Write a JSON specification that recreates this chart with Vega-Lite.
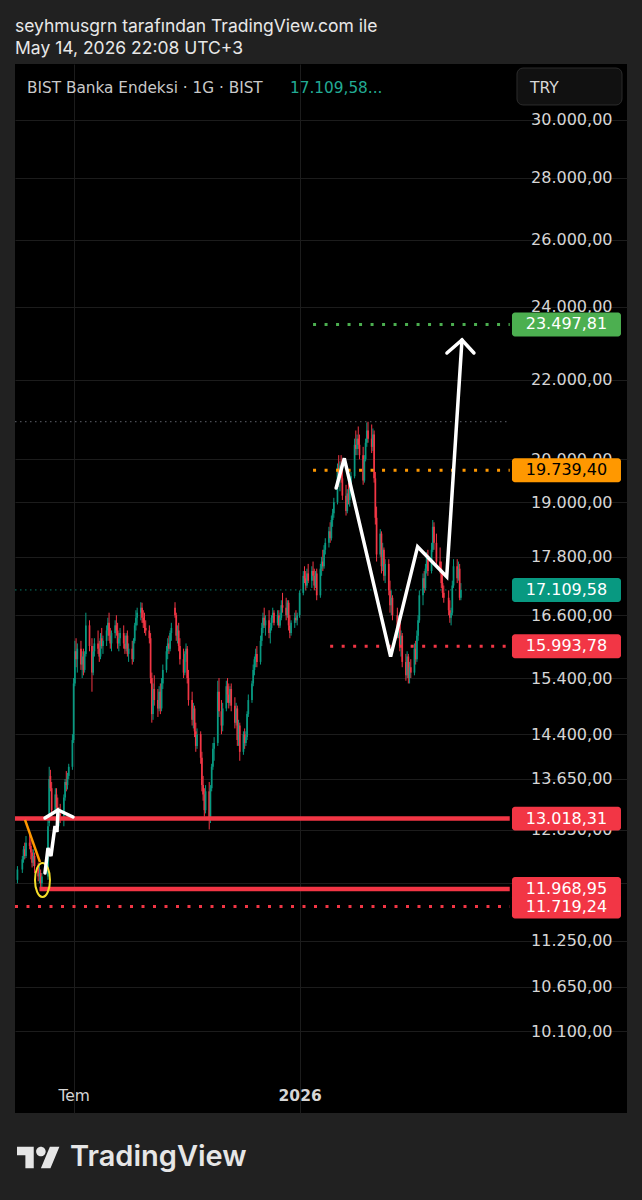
{
"$schema":"https://vega.github.io/schema/vega-lite/v6.json",
"width":612,"height":1049,
"autosize":{"type":"none"},
"padding":{"left":15,"top":64,"right":15,"bottom":87},
"background":"#212121",
"config":{
 "view":{"stroke":null,"fill":"#000000"},
 "locale":{
  "number":{"decimal":",","thousands":".","grouping":[3],"currency":["₺",""]},
  "time":{"dateTime":"%A, %e %B %Y %X","date":"%d.%m.%Y","time":"%H:%M:%S","periods":["AM","PM"],
   "days":["Pazar","Pazartesi","Salı","Çarşamba","Perşembe","Cuma","Cumartesi"],
   "shortDays":["Paz","Pzt","Sal","Çar","Per","Cum","Cmt"],
   "months":["Ocak","Şubat","Mart","Nisan","Mayıs","Haziran","Temmuz","Ağustos","Eylül","Ekim","Kasım","Aralık"],
   "shortMonths":["Oca","Şub","Mar","Nis","May","Haz","Tem","Ağu","Eyl","Eki","Kas","Ara"]}
 }
},
"title":{"text":"seyhmusgrn tarafından TradingView.com ile","subtitle":"May 14, 2026 22:08 UTC+3","anchor":"start","frame":"group","orient":"top","offset":7,"font":"Inter","fontSize":17.5,"fontWeight":400,"color":"#e8e8e8","subtitleFont":"Inter","subtitleFontSize":17.5,"subtitleColor":"#e8e8e8","subtitlePadding":4.5},
"datasets":{
"one":[{}],
"candles":[
{"d":"2025-05-16","o":12100,"h":12300,"l":12050,"c":12250},
{"d":"2025-05-20","o":12250,"h":12450,"l":12200,"c":12400},
{"d":"2025-05-21","o":12400,"h":12600,"l":12350,"c":12550},
{"d":"2025-05-22","o":12550,"h":12650,"l":12400,"c":12450},
{"d":"2025-05-23","o":12450,"h":12750,"l":12420,"c":12650},
{"d":"2025-05-26","o":12650,"h":12800,"l":12550,"c":12600},
{"d":"2025-05-27","o":12600,"h":12700,"l":12400,"c":12500},
{"d":"2025-05-28","o":12500,"h":12550,"l":12280,"c":12350},
{"d":"2025-05-29","o":12350,"h":12550,"l":12300,"c":12450},
{"d":"2025-05-30","o":12450,"h":12500,"l":12200,"c":12300},
{"d":"2025-06-02","o":12300,"h":12350,"l":12080,"c":12150},
{"d":"2025-06-03","o":12150,"h":12300,"l":12050,"c":12200},
{"d":"2025-06-04","o":12200,"h":12250,"l":11980,"c":12050},
{"d":"2025-06-05","o":12050,"h":12200,"l":11950,"c":12150},
{"d":"2025-06-10","o":12150,"h":13000,"l":12100,"c":12900},
{"d":"2025-06-11","o":12950,"h":13850,"l":12900,"c":13650},
{"d":"2025-06-12","o":13700,"h":13800,"l":13450,"c":13500},
{"d":"2025-06-13","o":13500,"h":13600,"l":13050,"c":13150},
{"d":"2025-06-16","o":13150,"h":13500,"l":13100,"c":13400},
{"d":"2025-06-17","o":13400,"h":13500,"l":13150,"c":13200},
{"d":"2025-06-18","o":13200,"h":13350,"l":12950,"c":13000},
{"d":"2025-06-19","o":13000,"h":13200,"l":12900,"c":13100},
{"d":"2025-06-20","o":13100,"h":13250,"l":12950,"c":13050},
{"d":"2025-06-23","o":13050,"h":13400,"l":12900,"c":13350},
{"d":"2025-06-24","o":13350,"h":13650,"l":13300,"c":13600},
{"d":"2025-06-25","o":13600,"h":13780,"l":13450,"c":13550},
{"d":"2025-06-26","o":13550,"h":13750,"l":13480,"c":13700},
{"d":"2025-06-27","o":13700,"h":13900,"l":13650,"c":13850},
{"d":"2025-06-30","o":13850,"h":14400,"l":13800,"c":14300},
{"d":"2025-07-01","o":14300,"h":15400,"l":14250,"c":15300},
{"d":"2025-07-02","o":15300,"h":16100,"l":15250,"c":15900},
{"d":"2025-07-03","o":15900,"h":16150,"l":15600,"c":15750},
{"d":"2025-07-04","o":15750,"h":16050,"l":15500,"c":15950},
{"d":"2025-07-07","o":15950,"h":16100,"l":15550,"c":15650},
{"d":"2025-07-08","o":15650,"h":15900,"l":15400,"c":15800},
{"d":"2025-07-09","o":15800,"h":15950,"l":15450,"c":15550},
{"d":"2025-07-10","o":15550,"h":15900,"l":15500,"c":15850},
{"d":"2025-07-11","o":15850,"h":16650,"l":15800,"c":16400},
{"d":"2025-07-14","o":16400,"h":16500,"l":15900,"c":16000},
{"d":"2025-07-16","o":16000,"h":16150,"l":15150,"c":15500},
{"d":"2025-07-17","o":15500,"h":16000,"l":15450,"c":15900},
{"d":"2025-07-18","o":15900,"h":16150,"l":15800,"c":16050},
{"d":"2025-07-21","o":16050,"h":16300,"l":15850,"c":15950},
{"d":"2025-07-22","o":15950,"h":16100,"l":15700,"c":15800},
{"d":"2025-07-23","o":15800,"h":16250,"l":15750,"c":16150},
{"d":"2025-07-24","o":16150,"h":16350,"l":15950,"c":16000},
{"d":"2025-07-25","o":16000,"h":16200,"l":15850,"c":16100},
{"d":"2025-07-28","o":16100,"h":16400,"l":16000,"c":16300},
{"d":"2025-07-29","o":16300,"h":16550,"l":16200,"c":16450},
{"d":"2025-07-30","o":16450,"h":16650,"l":16100,"c":16200},
{"d":"2025-07-31","o":16200,"h":16350,"l":15950,"c":16050},
{"d":"2025-08-01","o":16050,"h":16300,"l":15900,"c":16250},
{"d":"2025-08-04","o":16250,"h":16500,"l":16150,"c":16400},
{"d":"2025-08-05","o":16400,"h":16600,"l":16200,"c":16300},
{"d":"2025-08-06","o":16300,"h":16450,"l":15950,"c":16050},
{"d":"2025-08-07","o":16050,"h":16250,"l":15900,"c":16150},
{"d":"2025-08-08","o":16150,"h":16350,"l":16000,"c":16250},
{"d":"2025-08-11","o":16250,"h":16400,"l":15950,"c":16050},
{"d":"2025-08-12","o":16050,"h":16200,"l":15850,"c":15950},
{"d":"2025-08-13","o":15950,"h":16250,"l":15900,"c":16200},
{"d":"2025-08-14","o":16200,"h":16300,"l":15800,"c":15850},
{"d":"2025-08-15","o":15850,"h":16050,"l":15700,"c":15950},
{"d":"2025-08-18","o":15950,"h":16100,"l":15650,"c":15750},
{"d":"2025-08-19","o":15750,"h":16150,"l":15700,"c":16100},
{"d":"2025-08-20","o":16100,"h":16450,"l":16050,"c":16400},
{"d":"2025-08-21","o":16400,"h":16700,"l":16300,"c":16550},
{"d":"2025-08-22","o":16550,"h":16750,"l":16400,"c":16650},
{"d":"2025-08-25","o":16650,"h":16860,"l":16500,"c":16750},
{"d":"2025-08-26","o":16750,"h":16850,"l":16450,"c":16550},
{"d":"2025-08-27","o":16550,"h":16700,"l":16350,"c":16450},
{"d":"2025-08-28","o":16450,"h":16650,"l":16250,"c":16350},
{"d":"2025-08-29","o":16350,"h":16500,"l":16200,"c":16300},
{"d":"2025-09-01","o":16300,"h":16400,"l":16050,"c":16150},
{"d":"2025-09-02","o":16150,"h":16250,"l":15300,"c":15400},
{"d":"2025-09-03","o":15400,"h":15500,"l":14600,"c":14750},
{"d":"2025-09-04","o":14750,"h":15300,"l":14650,"c":15200},
{"d":"2025-09-05","o":15200,"h":15450,"l":14900,"c":15000},
{"d":"2025-09-08","o":15000,"h":15200,"l":14700,"c":14850},
{"d":"2025-09-09","o":14850,"h":15250,"l":14800,"c":15150},
{"d":"2025-09-10","o":15150,"h":15300,"l":14750,"c":14850},
{"d":"2025-09-11","o":14850,"h":15400,"l":14800,"c":15300},
{"d":"2025-09-12","o":15300,"h":15650,"l":15200,"c":15550},
{"d":"2025-09-15","o":15550,"h":16000,"l":15500,"c":15900},
{"d":"2025-09-16","o":15900,"h":16150,"l":15750,"c":16050},
{"d":"2025-09-17","o":16050,"h":16200,"l":15850,"c":15950},
{"d":"2025-09-18","o":15950,"h":16300,"l":15900,"c":16250},
{"d":"2025-09-19","o":16250,"h":16450,"l":16100,"c":16350},
{"d":"2025-09-22","o":16750,"h":16860,"l":16550,"c":16600},
{"d":"2025-09-23","o":16600,"h":16650,"l":16100,"c":16200},
{"d":"2025-09-24","o":16200,"h":16400,"l":16050,"c":16300},
{"d":"2025-09-25","o":16300,"h":16450,"l":15900,"c":16000},
{"d":"2025-09-26","o":16000,"h":16150,"l":15650,"c":15750},
{"d":"2025-09-29","o":15750,"h":15950,"l":15400,"c":15500},
{"d":"2025-09-30","o":15500,"h":15900,"l":15450,"c":15850},
{"d":"2025-10-01","o":15850,"h":16050,"l":15700,"c":15950},
{"d":"2025-10-02","o":15950,"h":16000,"l":15300,"c":15400},
{"d":"2025-10-03","o":15400,"h":15550,"l":14900,"c":15000},
{"d":"2025-10-06","o":15000,"h":15150,"l":14550,"c":14650},
{"d":"2025-10-07","o":14650,"h":14950,"l":14500,"c":14850},
{"d":"2025-10-08","o":14850,"h":14900,"l":14350,"c":14450},
{"d":"2025-10-09","o":14450,"h":14600,"l":14100,"c":14200},
{"d":"2025-10-10","o":14200,"h":14500,"l":14150,"c":14400},
{"d":"2025-10-13","o":14400,"h":14450,"l":13900,"c":14000},
{"d":"2025-10-14","o":14000,"h":14100,"l":13450,"c":13550},
{"d":"2025-10-15","o":13550,"h":13700,"l":13300,"c":13400},
{"d":"2025-10-16","o":13400,"h":13500,"l":13050,"c":13150},
{"d":"2025-10-17","o":13150,"h":13550,"l":13100,"c":13450},
{"d":"2025-10-20","o":13450,"h":13600,"l":12850,"c":13000},
{"d":"2025-10-21","o":13000,"h":13550,"l":12950,"c":13500},
{"d":"2025-10-22","o":13500,"h":13900,"l":13450,"c":13850},
{"d":"2025-10-23","o":13850,"h":14250,"l":13800,"c":14150},
{"d":"2025-10-24","o":14150,"h":14350,"l":13950,"c":14250},
{"d":"2025-10-27","o":14250,"h":15350,"l":14200,"c":15150},
{"d":"2025-10-28","o":15150,"h":15400,"l":14700,"c":14800},
{"d":"2025-10-30","o":14800,"h":15000,"l":14400,"c":14550},
{"d":"2025-10-31","o":14550,"h":14950,"l":14450,"c":14850},
{"d":"2025-11-03","o":14850,"h":15350,"l":14800,"c":15250},
{"d":"2025-11-04","o":15250,"h":15400,"l":14950,"c":15100},
{"d":"2025-11-05","o":15100,"h":15300,"l":14850,"c":14950},
{"d":"2025-11-06","o":14950,"h":15250,"l":14900,"c":15200},
{"d":"2025-11-07","o":15200,"h":15300,"l":14800,"c":14900},
{"d":"2025-11-10","o":14900,"h":15050,"l":14500,"c":14600},
{"d":"2025-11-11","o":14600,"h":14950,"l":14550,"c":14850},
{"d":"2025-11-12","o":14850,"h":14900,"l":14200,"c":14300},
{"d":"2025-11-13","o":14300,"h":14650,"l":14200,"c":14550},
{"d":"2025-11-14","o":14550,"h":14600,"l":13950,"c":14100},
{"d":"2025-11-17","o":14100,"h":14450,"l":14050,"c":14400},
{"d":"2025-11-18","o":14400,"h":14500,"l":14150,"c":14250},
{"d":"2025-11-19","o":14250,"h":14450,"l":14200,"c":14350},
{"d":"2025-11-20","o":14350,"h":14800,"l":14300,"c":14750},
{"d":"2025-11-21","o":14750,"h":15100,"l":14700,"c":15000},
{"d":"2025-11-24","o":15000,"h":15350,"l":14950,"c":15300},
{"d":"2025-11-25","o":15300,"h":15650,"l":15250,"c":15550},
{"d":"2025-11-26","o":15550,"h":15800,"l":15450,"c":15750},
{"d":"2025-11-27","o":15750,"h":15950,"l":15600,"c":15850},
{"d":"2025-11-28","o":15850,"h":16000,"l":15600,"c":15700},
{"d":"2025-12-01","o":15700,"h":16200,"l":15650,"c":16100},
{"d":"2025-12-02","o":16100,"h":16450,"l":16000,"c":16350},
{"d":"2025-12-03","o":16350,"h":16650,"l":16250,"c":16550},
{"d":"2025-12-04","o":16550,"h":16750,"l":16350,"c":16400},
{"d":"2025-12-05","o":16400,"h":16600,"l":16200,"c":16500},
{"d":"2025-12-08","o":16500,"h":16700,"l":16150,"c":16250},
{"d":"2025-12-09","o":16250,"h":16450,"l":16050,"c":16350},
{"d":"2025-12-10","o":16350,"h":16600,"l":16300,"c":16550},
{"d":"2025-12-11","o":16550,"h":16750,"l":16450,"c":16650},
{"d":"2025-12-12","o":16650,"h":16700,"l":16400,"c":16450},
{"d":"2025-12-15","o":16450,"h":16700,"l":16400,"c":16600},
{"d":"2025-12-16","o":16600,"h":16700,"l":16350,"c":16400},
{"d":"2025-12-17","o":16400,"h":16650,"l":16350,"c":16550},
{"d":"2025-12-18","o":16550,"h":16900,"l":16500,"c":16800},
{"d":"2025-12-19","o":16800,"h":17050,"l":16650,"c":16750},
{"d":"2025-12-22","o":16750,"h":16950,"l":16500,"c":16600},
{"d":"2025-12-23","o":16600,"h":16900,"l":16550,"c":16850},
{"d":"2025-12-24","o":16850,"h":16900,"l":16300,"c":16400},
{"d":"2025-12-25","o":16400,"h":16600,"l":16150,"c":16250},
{"d":"2025-12-26","o":16250,"h":16500,"l":16200,"c":16450},
{"d":"2025-12-29","o":16450,"h":16650,"l":16350,"c":16550},
{"d":"2025-12-30","o":16550,"h":16700,"l":16450,"c":16500},
{"d":"2025-12-31","o":16500,"h":16650,"l":16400,"c":16600},
{"d":"2026-01-02","o":16600,"h":17100,"l":16550,"c":17050},
{"d":"2026-01-05","o":17050,"h":17500,"l":17000,"c":17400},
{"d":"2026-01-06","o":17400,"h":17600,"l":17250,"c":17350},
{"d":"2026-01-07","o":17350,"h":17500,"l":17100,"c":17200},
{"d":"2026-01-08","o":17200,"h":17550,"l":17150,"c":17450},
{"d":"2026-01-09","o":17450,"h":17650,"l":17250,"c":17300},
{"d":"2026-01-12","o":17300,"h":17600,"l":17150,"c":17500},
{"d":"2026-01-13","o":17500,"h":17700,"l":17300,"c":17400},
{"d":"2026-01-14","o":17400,"h":17550,"l":17100,"c":17200},
{"d":"2026-01-15","o":17200,"h":17500,"l":17150,"c":17450},
{"d":"2026-01-16","o":17450,"h":17550,"l":16900,"c":17000},
{"d":"2026-01-19","o":17000,"h":17650,"l":16950,"c":17550},
{"d":"2026-01-20","o":17550,"h":17800,"l":17400,"c":17700},
{"d":"2026-01-21","o":17700,"h":17950,"l":17500,"c":17600},
{"d":"2026-01-22","o":17600,"h":18050,"l":17550,"c":17950},
{"d":"2026-01-23","o":17950,"h":18200,"l":17850,"c":18100},
{"d":"2026-01-26","o":18100,"h":18450,"l":18000,"c":18350},
{"d":"2026-01-27","o":18350,"h":18550,"l":18100,"c":18200},
{"d":"2026-01-28","o":18200,"h":18700,"l":18150,"c":18600},
{"d":"2026-01-29","o":18600,"h":18850,"l":18450,"c":18750},
{"d":"2026-01-30","o":18750,"h":19100,"l":18650,"c":19000},
{"d":"2026-02-02","o":19000,"h":19900,"l":18950,"c":19800},
{"d":"2026-02-03","o":19800,"h":20100,"l":19350,"c":19500},
{"d":"2026-02-04","o":19500,"h":19950,"l":19250,"c":19850},
{"d":"2026-02-05","o":19850,"h":20100,"l":19450,"c":19550},
{"d":"2026-02-06","o":19550,"h":19750,"l":19050,"c":19150},
{"d":"2026-02-09","o":19150,"h":19400,"l":18700,"c":18800},
{"d":"2026-02-10","o":18800,"h":19300,"l":18750,"c":19200},
{"d":"2026-02-11","o":19200,"h":19450,"l":18950,"c":19050},
{"d":"2026-02-12","o":19050,"h":19400,"l":18900,"c":19300},
{"d":"2026-02-13","o":19300,"h":19700,"l":19200,"c":19600},
{"d":"2026-02-16","o":19600,"h":20500,"l":19550,"c":20350},
{"d":"2026-02-17","o":20350,"h":20700,"l":20100,"c":20250},
{"d":"2026-02-18","o":20250,"h":20600,"l":20100,"c":20500},
{"d":"2026-02-19","o":20500,"h":20800,"l":20250,"c":20350},
{"d":"2026-02-20","o":20350,"h":20600,"l":20000,"c":20100},
{"d":"2026-02-23","o":20100,"h":20300,"l":19400,"c":19500},
{"d":"2026-02-24","o":19500,"h":20100,"l":19450,"c":20000},
{"d":"2026-02-25","o":20000,"h":20500,"l":19950,"c":20400},
{"d":"2026-02-26","o":20400,"h":20900,"l":20300,"c":20700},
{"d":"2026-02-27","o":20700,"h":20919,"l":20400,"c":20500},
{"d":"2026-03-02","o":20500,"h":20850,"l":20150,"c":20300},
{"d":"2026-03-03","o":20300,"h":20750,"l":20200,"c":20600},
{"d":"2026-03-04","o":20600,"h":20700,"l":19450,"c":19550},
{"d":"2026-03-05","o":19550,"h":19700,"l":18500,"c":18650},
{"d":"2026-03-06","o":18650,"h":18900,"l":17700,"c":17850},
{"d":"2026-03-09","o":17850,"h":18400,"l":17800,"c":18300},
{"d":"2026-03-10","o":18300,"h":18350,"l":17450,"c":17600},
{"d":"2026-03-11","o":17600,"h":18100,"l":17500,"c":17950},
{"d":"2026-03-12","o":17950,"h":18000,"l":17300,"c":17400},
{"d":"2026-03-13","o":17400,"h":17750,"l":17250,"c":17650},
{"d":"2026-03-16","o":17650,"h":17750,"l":17000,"c":17100},
{"d":"2026-03-17","o":17100,"h":17300,"l":16650,"c":16800},
{"d":"2026-03-18","o":16800,"h":17100,"l":16600,"c":16950},
{"d":"2026-03-19","o":16950,"h":17000,"l":16500,"c":16600},
{"d":"2026-03-23","o":16600,"h":16750,"l":16150,"c":16250},
{"d":"2026-03-24","o":16250,"h":16600,"l":16150,"c":16500},
{"d":"2026-03-25","o":16500,"h":16550,"l":15900,"c":16000},
{"d":"2026-03-26","o":16000,"h":16300,"l":15800,"c":16200},
{"d":"2026-03-27","o":16200,"h":16250,"l":15600,"c":15700},
{"d":"2026-03-30","o":15700,"h":15850,"l":15350,"c":15450},
{"d":"2026-03-31","o":15450,"h":15900,"l":15400,"c":15800},
{"d":"2026-04-01","o":15800,"h":15850,"l":15300,"c":15400},
{"d":"2026-04-02","o":15400,"h":15700,"l":15300,"c":15600},
{"d":"2026-04-03","o":15600,"h":15750,"l":15400,"c":15500},
{"d":"2026-04-06","o":15500,"h":16050,"l":15450,"c":15950},
{"d":"2026-04-07","o":15950,"h":16100,"l":15650,"c":15750},
{"d":"2026-04-08","o":15750,"h":16300,"l":15700,"c":16200},
{"d":"2026-04-09","o":16200,"h":16600,"l":16100,"c":16500},
{"d":"2026-04-10","o":16500,"h":17100,"l":16450,"c":17000},
{"d":"2026-04-13","o":17000,"h":17450,"l":16800,"c":17350},
{"d":"2026-04-14","o":17350,"h":17500,"l":17050,"c":17150},
{"d":"2026-04-15","o":17150,"h":17650,"l":17100,"c":17550},
{"d":"2026-04-16","o":17550,"h":17900,"l":17450,"c":17800},
{"d":"2026-04-17","o":17800,"h":17950,"l":17400,"c":17500},
{"d":"2026-04-20","o":17500,"h":18100,"l":17450,"c":17950},
{"d":"2026-04-21","o":17950,"h":18600,"l":17900,"c":18450},
{"d":"2026-04-22","o":18450,"h":18550,"l":17950,"c":18100},
{"d":"2026-04-24","o":18100,"h":18300,"l":17600,"c":17700},
{"d":"2026-04-27","o":17700,"h":18000,"l":17450,"c":17550},
{"d":"2026-04-28","o":17550,"h":17700,"l":17150,"c":17250},
{"d":"2026-04-29","o":17250,"h":17450,"l":16950,"c":17050},
{"d":"2026-04-30","o":17050,"h":17200,"l":16850,"c":16950},
{"d":"2026-05-04","o":16950,"h":17100,"l":16600,"c":16700},
{"d":"2026-05-05","o":16700,"h":16900,"l":16450,"c":16550},
{"d":"2026-05-06","o":16550,"h":16750,"l":16400,"c":16650},
{"d":"2026-05-07","o":16650,"h":17300,"l":16600,"c":17200},
{"d":"2026-05-08","o":17200,"h":17750,"l":17150,"c":17600},
{"d":"2026-05-11","o":17600,"h":17750,"l":17250,"c":17350},
{"d":"2026-05-12","o":17350,"h":17700,"l":17300,"c":17550},
{"d":"2026-05-13","o":17550,"h":17650,"l":16900,"c":16950},
{"d":"2026-05-14","o":16950,"h":17250,"l":16900,"c":17109.58}
],
"levels":[
{"level":20919,"from":"2025-05-14","kind":"gray","line":"thin","tag":false},
{"level":17109.58,"from":"2025-05-14","kind":"teal","line":"thin","tag":true},
{"level":23497.81,"from":"2026-01-13","kind":"green","line":"dot","tag":true},
{"level":19739.4,"from":"2026-01-13","kind":"orange","line":"dot","tag":true},
{"level":15993.78,"from":"2026-01-27","kind":"red","line":"dot","tag":true},
{"level":13018.31,"from":"2025-05-14","kind":"red","line":"solid","tag":true},
{"level":11968.95,"from":"2025-06-03","kind":"red","line":"solid","tag":true},
{"level":11719.24,"from":"2025-05-14","kind":"red","line":"dot","tag":true}
],
"draw":[
{"g":"zig","i":0,"d":"2026-01-31T22:00Z","p":19326},
{"g":"zig","i":1,"d":"2026-02-07T14:00Z","p":20024},
{"g":"zig","i":2,"d":"2026-03-17T12:00Z","p":15798},
{"g":"zig","i":3,"d":"2026-04-08T14:00Z","p":18017},
{"g":"zig","i":4,"d":"2026-05-02T10:00Z","p":17382},
{"g":"zig","i":5,"d":"2026-05-14T22:00Z","p":23065},
{"g":"arrow","i":0,"d":"2026-05-02T14:00Z","p":22709},
{"g":"arrow","i":1,"d":"2026-05-14T22:00Z","p":23065},
{"g":"arrow","i":2,"d":"2026-05-24T17:00Z","p":22709},
{"g":"zig2","i":0,"d":"2025-06-07T13:00Z","p":12199},
{"g":"zig2","i":1,"d":"2025-06-10T00:00Z","p":12569},
{"g":"zig2","i":2,"d":"2025-06-12T11:00Z","p":12449},
{"g":"zig2","i":3,"d":"2025-06-15T18:00Z","p":12904},
{"g":"zig2","i":4,"d":"2025-06-17T09:00Z","p":12812},
{"g":"zig2","i":5,"d":"2025-06-18T05:00Z","p":13154},
{"g":"arrow2","i":0,"d":"2025-06-07T13:00Z","p":13028},
{"g":"arrow2","i":1,"d":"2025-06-18T05:00Z","p":13154},
{"g":"arrow2","i":2,"d":"2025-06-30T12:00Z","p":13044},
{"g":"trend","i":0,"d":"2025-05-22T05:00Z","p":13000},
{"g":"trend","i":1,"d":"2025-06-03T11:00Z","p":12360},
{"g":"ring","i":0,"d":"2025-06-05T12:00Z","p":12098}
]
},
"layer":[
{"data":{"name":"candles"},"mark":{"type":"rule","strokeWidth":1},
 "encoding":{
  "x":{"field":"d","type":"temporal","title":null,"scale":{"type":"utc","domain":[{"year":2025,"month":5,"date":14,"utc":true},{"year":2026,"month":9,"date":27,"utc":true}],"nice":false},
   "axis":{"orient":"bottom","title":null,"values":[{"year":2025,"month":7,"date":1,"utc":true},{"year":2026,"month":1,"date":2,"utc":true}],
    "labelExpr":"utcmonth(datum.value) == 0 ? utcFormat(datum.value, '%Y') : utcFormat(datum.value, '%b')",
    "labelFontWeight":{"condition":{"test":"utcmonth(datum.value) == 0","value":"bold"},"value":"normal"},
    "labelPadding":-18,"labelBaseline":"middle","labelAlign":"center","labelFlush":false,"labelOverlap":false,"labelBound":false,
    "ticks":false,"tickSize":0,"domain":false,"grid":true,"gridColor":"#1c1c1c","gridWidth":1,
    "labelColor":"#d6d6d6","labelFont":"DejaVu Sans","labelFontSize":15.5}},
  "y":{"field":"l","type":"quantitative","title":null,"scale":{"type":"log","domain":[9157.6,32076],"nice":false,"zero":false},
   "axis":{"orient":"right","title":null,"values":[10100,10650,11250,12050,12850,13650,14400,15400,16600,17800,19000,20000,22000,24000,26000,28000,30000],
    "format":",.2f","labelAlign":"right","labelBaseline":"middle","labelPadding":-15,"ticks":false,"tickSize":0,"domain":false,
    "grid":true,"gridColor":"#1c1c1c","gridWidth":1,"labelColor":"#d6d6d6","labelFont":"DejaVu Sans","labelFontSize":16,
    "labelOverlap":false,"labelBound":false,"labelFlush":false}},
  "y2":{"field":"h"},
  "color":{"condition":{"test":"datum.c >= datum.o","value":"#089981"},"value":"#f23645"}
 }},
{"data":{"name":"candles"},"mark":{"type":"rule","strokeWidth":1.7},
 "encoding":{
  "x":{"field":"d","type":"temporal","title":null},
  "y":{"field":"o","type":"quantitative","title":null},
  "y2":{"field":"c"},
  "color":{"condition":{"test":"datum.c >= datum.o","value":"#089981"},"value":"#f23645"}
 }},
{"data":{"name":"levels"},"transform":[{"filter":"datum.line == 'thin'"}],
 "mark":{"type":"rule","strokeWidth":1,"strokeDash":[1.5,3.5],"opacity":0.8},
 "encoding":{
  "x":{"field":"from","type":"temporal","title":null},
  "x2":{"datum":{"year":2026,"month":6,"date":23,"utc":true}},
  "y":{"field":"level","type":"quantitative","title":null},
  "color":{"field":"kind","type":"nominal","legend":null,"scale":{"domain":["green","orange","teal","red","gray"],"range":["#4caf50","#ff9800","#089981","#f23645","#787b86"]}}
 }},
{"data":{"name":"levels"},"transform":[{"filter":"datum.line == 'dot'"}],
 "mark":{"type":"rule","strokeWidth":3,"strokeDash":[3,8.5]},
 "encoding":{
  "x":{"field":"from","type":"temporal","title":null},
  "x2":{"datum":{"year":2026,"month":6,"date":23,"utc":true}},
  "y":{"field":"level","type":"quantitative","title":null},
  "color":{"field":"kind","type":"nominal","legend":null}
 }},
{"data":{"name":"levels"},"transform":[{"filter":"datum.line == 'solid'"}],
 "mark":{"type":"rule","strokeWidth":4.5},
 "encoding":{
  "x":{"field":"from","type":"temporal","title":null},
  "x2":{"datum":{"year":2026,"month":6,"date":23,"utc":true}},
  "y":{"field":"level","type":"quantitative","title":null},
  "color":{"field":"kind","type":"nominal","legend":null}
 }},
{"data":{"name":"draw"},"transform":[{"filter":"datum.g == 'trend'"}],
 "mark":{"type":"line","color":"#ff9800","strokeWidth":2.5},
 "encoding":{
  "x":{"field":"d","type":"temporal","title":null},
  "y":{"field":"p","type":"quantitative","title":null},
  "order":{"field":"i"}
 }},
{"data":{"name":"draw"},"transform":[{"filter":"datum.g == 'ring'"}],
 "mark":{"type":"point","shape":"M-0.441,0A0.441,1 0 1 0 0.441,0A0.441,1 0 1 0 -0.441,0Z","size":1156,"filled":false,"stroke":"#f5dd2a","strokeWidth":2,"opacity":1},
 "encoding":{
  "x":{"field":"d","type":"temporal","title":null},
  "y":{"field":"p","type":"quantitative","title":null}
 }},
{"data":{"name":"draw"},"transform":[{"filter":"indexof(['zig','arrow','zig2','arrow2'], datum.g) >= 0"}],
 "mark":{"type":"line","color":"#ffffff","strokeWidth":3.5,"strokeJoin":"miter","strokeCap":"round"},
 "encoding":{
  "x":{"field":"d","type":"temporal","title":null},
  "y":{"field":"p","type":"quantitative","title":null},
  "detail":{"field":"g"},
  "order":{"field":"i"}
 }},
{"data":{"name":"levels"},"transform":[{"filter":"datum.tag"}],
 "mark":{"type":"point","shape":"M-0.945,-0.22H0.945A0.055,0.055 0 0 1 1,-0.165V0.165A0.055,0.055 0 0 1 0.945,0.22H-0.945A0.055,0.055 0 0 1 -1,0.165V-0.165A0.055,0.055 0 0 1 -0.945,-0.22Z","size":11881,"filled":true,"opacity":1},
 "encoding":{
  "x":{"datum":{"year":2026,"month":8,"date":8,"hours":11,"utc":true},"type":"temporal"},
  "y":{"field":"level","type":"quantitative","title":null},
  "color":{"field":"kind","type":"nominal","legend":null}
 }},
{"data":{"name":"levels"},"transform":[{"filter":"datum.tag"}],
 "mark":{"type":"text","font":"DejaVu Sans","fontSize":16,"align":"center","baseline":"middle"},
 "encoding":{
  "x":{"datum":{"year":2026,"month":8,"date":8,"hours":11,"utc":true},"type":"temporal"},
  "y":{"field":"level","type":"quantitative","title":null},
  "text":{"field":"level","type":"quantitative","format":",.2f"},
  "color":{"condition":{"test":"datum.kind == 'orange'","value":"#000000"},"value":"#ffffff"}
 }},
{"data":{"name":"one"},
 "mark":{"type":"point","shape":"M-0.886,-0.352H0.886A0.114,0.114 0 0 1 1,-0.238V0.238A0.114,0.114 0 0 1 0.886,0.352H-0.886A0.114,0.114 0 0 1 -1,0.238V-0.238A0.114,0.114 0 0 1 -0.886,-0.352Z","size":11025,"filled":true,"fill":"#111111","stroke":"#2c2c2c","strokeWidth":1,"opacity":1},
 "encoding":{
  "x":{"datum":{"year":2026,"month":8,"date":10,"hours":22,"utc":true},"type":"temporal"},
  "y":{"datum":31225,"type":"quantitative"}
 }},
{"data":{"name":"one"},
 "mark":{"type":"text","text":"TRY","font":"DejaVu Sans","fontSize":15.5,"fontWeight":500,"color":"#d8d8d8","align":"left","baseline":"middle"},
 "encoding":{
  "x":{"datum":{"year":2026,"month":7,"date":9,"hours":14,"utc":true},"type":"temporal"},
  "y":{"datum":31169,"type":"quantitative"}
 }},
{"data":{"name":"one"},
 "mark":{"type":"text","text":"BIST Banka Endeksi · 1G · BIST","font":"DejaVu Sans","fontSize":15.3,"color":"#c9c9c9","align":"left","baseline":"middle"},
 "encoding":{
  "x":{"datum":{"year":2025,"month":5,"date":23,"hours":20,"utc":true},"type":"temporal"},
  "y":{"datum":31169,"type":"quantitative"}
 }},
{"data":{"name":"one"},
 "mark":{"type":"text","text":"17.109,58...","font":"DejaVu Sans","fontSize":15.3,"color":"#22ab94","align":"left","baseline":"middle"},
 "encoding":{
  "x":{"datum":{"year":2025,"month":12,"date":25,"hours":3,"utc":true},"type":"temporal"},
  "y":{"datum":31169,"type":"quantitative"}
 }},
{"data":{"name":"one"},
 "mark":{"type":"point","shape":"M-1,-0.5H-0.222V0.5H-0.611V-0.111H-1ZM0.111,0.5L0.528,-0.5H0.972L0.556,0.5ZM-0.111,-0.278A0.222,0.222 0 1 0 0.333,-0.278A0.222,0.222 0 1 0 -0.111,-0.278Z","size":1849,"filled":true,"fill":"#e6e6e6","strokeWidth":0,"opacity":1},
 "encoding":{
  "x":{"datum":{"year":2025,"month":6,"date":2,"hours":6,"utc":true},"type":"temporal"},
  "y":{"datum":8683,"type":"quantitative"}
 }},
{"data":{"name":"one"},
 "mark":{"type":"text","text":"TradingView","font":"Inter","fontSize":29,"fontWeight":600,"color":"#e6e6e6","align":"left","baseline":"middle"},
 "encoding":{
  "x":{"datum":{"year":2025,"month":6,"date":28,"utc":true},"type":"temporal"},
  "y":{"datum":8688,"type":"quantitative"}
 }}
]
}
